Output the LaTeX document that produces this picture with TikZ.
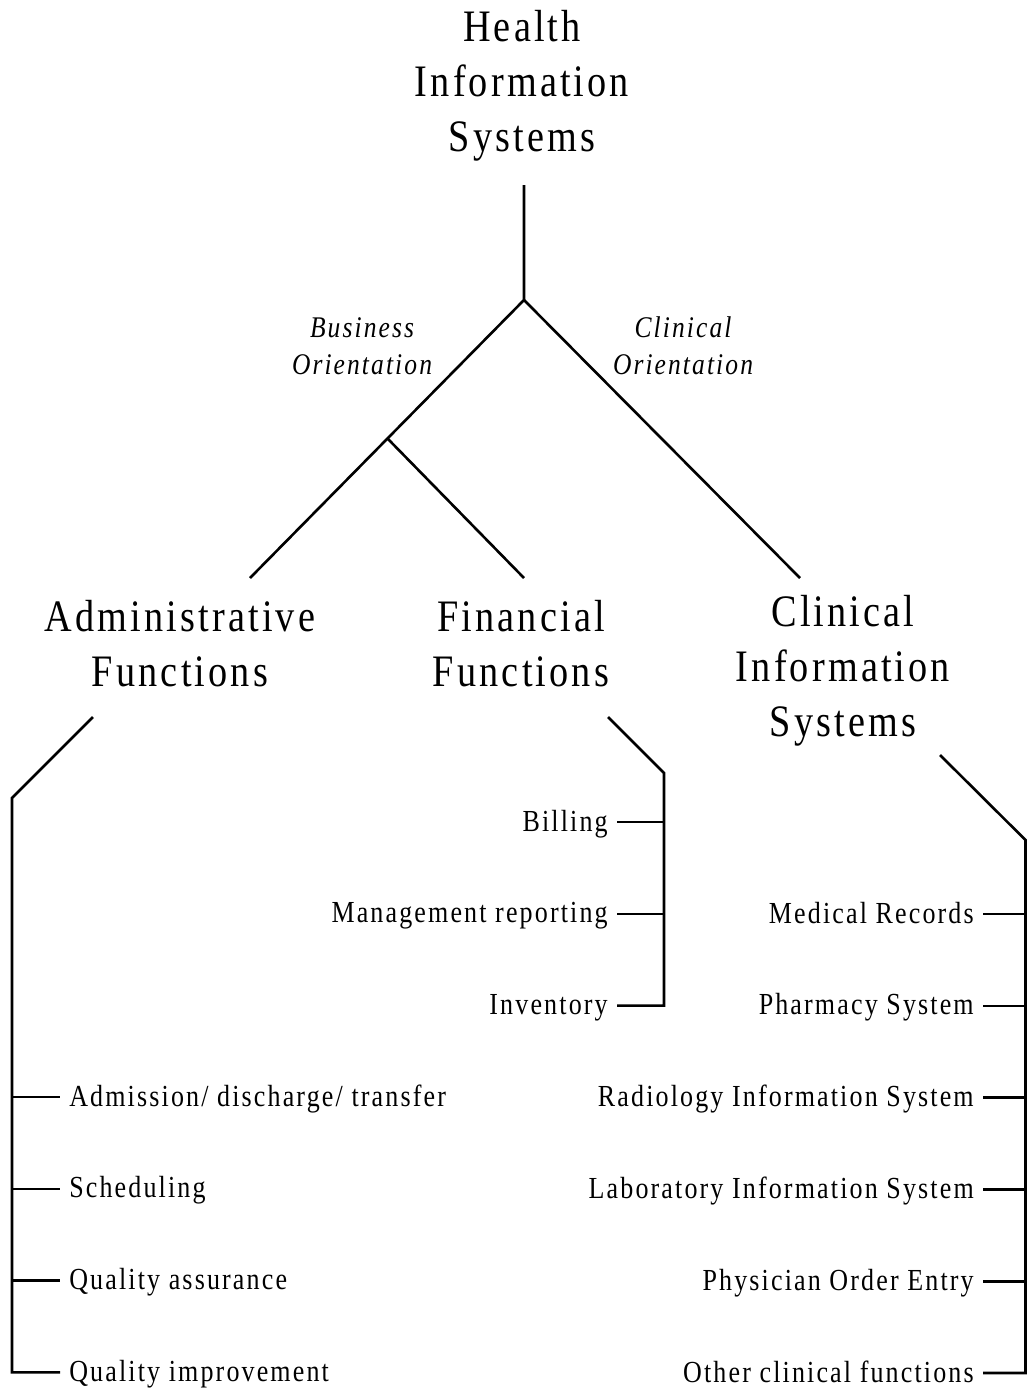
\documentclass[tikz,border=0pt]{standalone}
\usepackage{fontspec}
\newfontfamily\hisfont[LetterSpace=7,FakeStretch=0.85]{Liberation Serif}
\usetikzlibrary{positioning}

\begin{document}
\begin{tikzpicture}[x=0.5pt, y=-0.5pt, line width=1.3pt, node distance=45.9pt, on grid,
  heading/.style={font=\hisfont\fontsize{22.5}{27.5}\selectfont, align=center, inner sep=0pt},
  orient/.style={font=\hisfont\itshape\fontsize{15}{18.5}\selectfont, align=center, inner sep=0pt},
  item/.style={font=\hisfont\fontsize{15.3}{18}\selectfont, inner ysep=0pt, inner xsep=4pt,
    text height=12pt, text depth=3pt}]
  \useasboundingbox (0,0) rectangle (1027,1392);

  % headings
  \node[heading] (his) at (522,86) {Health\\Information\\Systems};
  \node[heading] (admin) at (180,644) {Administrative\\Functions};
  \node[heading] (fin) at (521,644) {Financial\\Functions};
  \node[heading] (clin) at (843,671) {Clinical\\Information\\Systems};
  \node[orient] (biz) at (362,346) {Business\\Orientation};
  \node[orient] (clor) at (683,346) {Clinical\\Orientation};

  % administrative functions
  \node[item, anchor=west] (adt) at (60,1097) {Admission/ discharge/ transfer};
  \node[item, below=of adt.west, anchor=west] (sched) {Scheduling};
  \node[item, below=of sched.west, anchor=west] (qa) {Quality assurance};
  \node[item, below=of qa.west, anchor=west] (qi) {Quality improvement};

  % financial functions
  \node[item, anchor=east] (bill) at (617,822) {Billing};
  \node[item, below=of bill.east, anchor=east] (mgmt) {Management reporting};
  \node[item, below=of mgmt.east, anchor=east] (inv) {Inventory};

  % clinical information systems
  \node[item, anchor=east] (medrec) at (983,914) {Medical Records};
  \node[item, below=of medrec.east, anchor=east] (pharm) {Pharmacy System};
  \node[item, below=of pharm.east, anchor=east] (radio) {Radiology Information System};
  \node[item, below=of radio.east, anchor=east] (lab) {Laboratory Information System};
  \node[item, below=of lab.east, anchor=east] (poe) {Physician Order Entry};
  \node[item, below=of poe.east, anchor=east] (other) {Other clinical functions};

  % tree
  \coordinate (stem) at (524,185);
  \coordinate (root) at (524,300);
  \coordinate (bizfork) at (388,439);
  \coordinate (admtop) at (250,578);
  \coordinate (fintop) at (524,578);
  \coordinate (clintop) at (800,578);
  \coordinate (admfoot) at (93,717);
  \coordinate (admbend) at (12,798);
  \coordinate (finfoot) at (608,717);
  \coordinate (finbend) at (664,773);
  \coordinate (clinfoot) at (940,755);
  \coordinate (clinbend) at (1025.5,840);

  \draw (stem) -- (root) -- (admtop);
  \draw (root) -- (clintop);
  \draw (bizfork) -- (fintop);

  \draw (admfoot) -- (admbend) -- (admbend |- qi.west) -- (qi.west);
  \draw (admbend |- adt.west) -- (adt.west);
  \draw (admbend |- sched.west) -- (sched.west);
  \draw (admbend |- qa.west) -- (qa.west);

  \draw (finfoot) -- (finbend) -- (finbend |- inv.east) -- (inv.east);
  \draw (finbend |- bill.east) -- (bill.east);
  \draw (finbend |- mgmt.east) -- (mgmt.east);

  \draw (clinfoot) -- (clinbend) -- (clinbend |- other.east) -- (other.east);
  \draw (clinbend |- medrec.east) -- (medrec.east);
  \draw (clinbend |- pharm.east) -- (pharm.east);
  \draw (clinbend |- radio.east) -- (radio.east);
  \draw (clinbend |- lab.east) -- (lab.east);
  \draw (clinbend |- poe.east) -- (poe.east);
\end{tikzpicture}
\end{document}
